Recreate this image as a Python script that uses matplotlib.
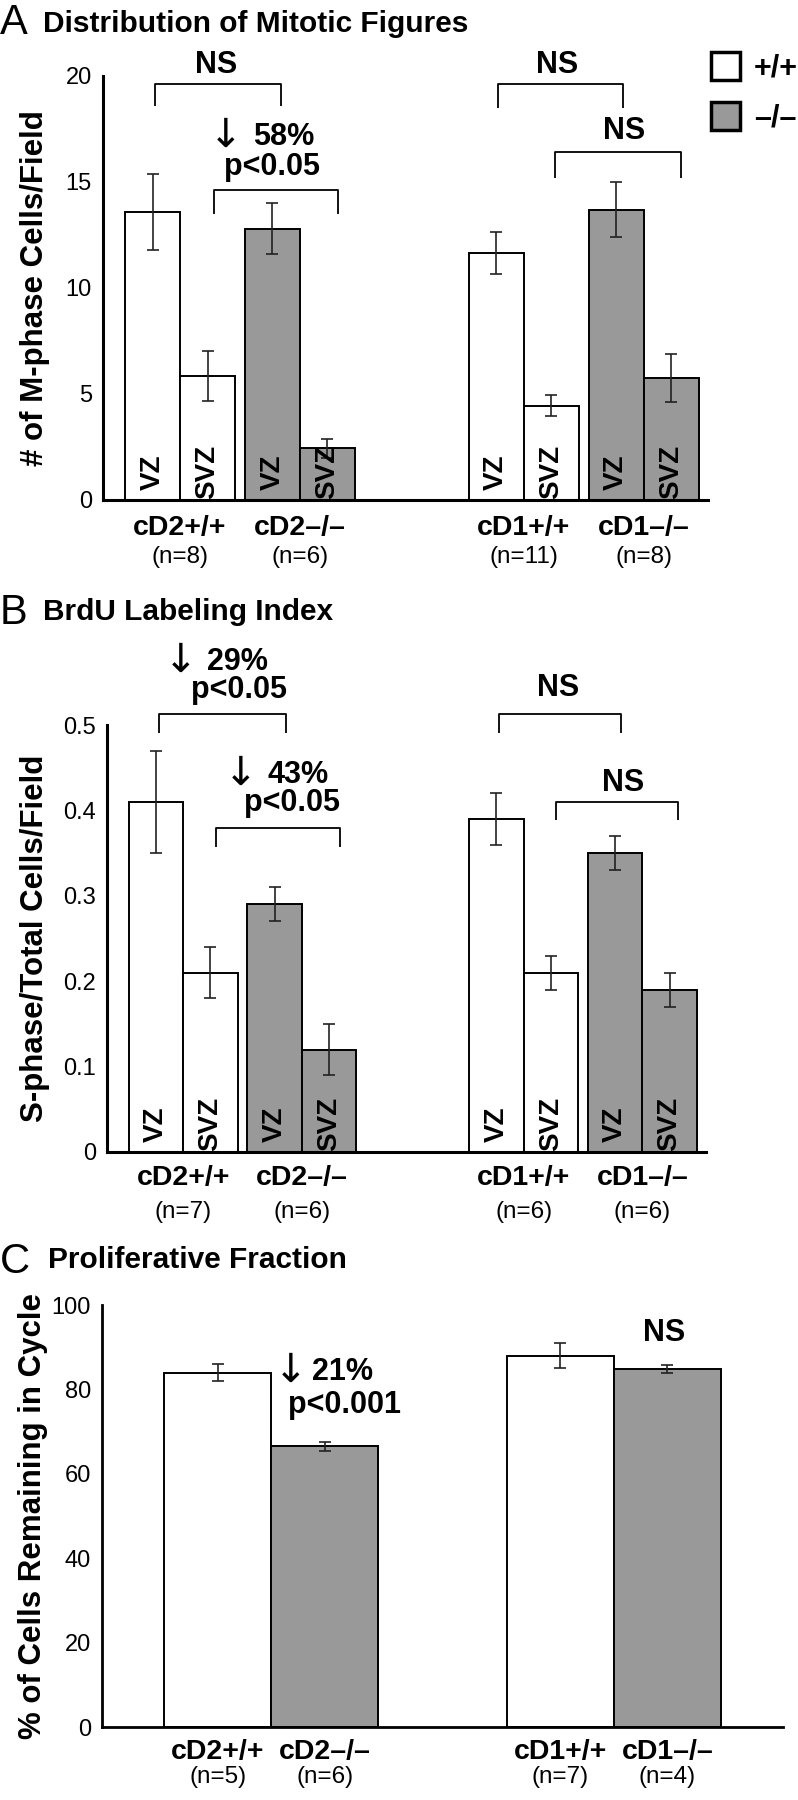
import matplotlib
matplotlib.use('Agg')
import matplotlib.pyplot as plt
from matplotlib.patches import Patch

plt.rcParams['font.family'] = ['Liberation Sans', 'DejaVu Sans']

# ---------------- data ----------------
zones = ['VZ', 'SVZ']
genotypes = ['cD2+/+', 'cD2–/–', 'cD1+/+', 'cD1–/–']
genotype_kind = ['+/+', '–/–', '+/+', '–/–']

# Panel A: mitotic figures (# of M-phase cells / field), order: VZ, SVZ per genotype
mitotic_mean = [13.6, 5.85, 12.8, 2.45, 11.65, 4.45, 13.7, 5.75]
mitotic_err = [1.8, 1.2, 1.2, 0.45, 1.0, 0.5, 1.3, 1.15]
n_A = ['(n=8)', '(n=6)', '(n=11)', '(n=8)']

# Panel B: BrdU labeling index
brdu_mean = [0.41, 0.21, 0.29, 0.12, 0.39, 0.21, 0.35, 0.19]
brdu_err = [0.06, 0.03, 0.02, 0.03, 0.03, 0.02, 0.02, 0.02]
n_B = ['(n=7)', '(n=6)', '(n=6)', '(n=6)']

# Panel C: proliferative fraction (%)
prolif_mean = [84.0, 66.5, 88.0, 84.8]
prolif_err = [2.0, 1.0, 3.0, 1.0]
n_C = ['(n=5)', '(n=6)', '(n=7)', '(n=4)']

legend_labels = ['+/+', '–/–']

# ---------------- style ----------------
GRAY = '#999999'
fill = {'+/+': 'white', '–/–': GRAY}
W, H = 798, 1800
fig = plt.figure(figsize=(W / 100, H / 100), dpi=100)

FS_ANN = 22
FS_XL = 20.5
FS_N = 17.5
FS_TICK = 17
FS_YL = 22.5
FS_TITLE = 21.5
FS_LET = 30
FS_ZONE = 20


def fx(px):
    return px / W


def fy(py):
    return 1 - py / H


def make_ax(left, right, top, bottom):
    return fig.add_axes([fx(left), fy(bottom), fx(right - left), (bottom - top) / H])


def style_ax(ax, lw):
    for s in ['top', 'right']:
        ax.spines[s].set_visible(False)
    for s in ['left', 'bottom']:
        ax.spines[s].set_linewidth(lw)
    ax.tick_params(axis='y', length=0, pad=8, labelsize=FS_TICK)
    ax.set_xticks([])


def bracket(ax, x1, x2, ytop, ybot):
    ax.plot([x1, x1, x2, x2], [ybot, ytop, ytop, ybot], color='black', lw=1.3,
            clip_on=False, solid_capstyle='butt')


def btext(ax, x, y, s, ha='center'):
    ax.text(x, y, s, ha=ha, va='center', fontsize=FS_ANN, fontweight='bold', clip_on=False)


def drop_text(ax, x, y, s, gap=7):
    """Percentage text starting at x with a tall down arrow to its left."""
    ax.text(x, y, s, ha='left', va='center', fontsize=FS_ANN, fontweight='bold',
            clip_on=False)
    ax.annotate('↓', xy=(x, y), xytext=(-gap, 1), textcoords='offset points',
                ha='right', va='center', fontsize=29, family='DejaVu Sans',
                annotation_clip=False)


ekw = dict(ecolor='#222222', elinewidth=1.2, capsize=4, capthick=1.2)


def zone_panel(ax, means, errs, ns, lab_off, n_off):
    # bar layout: pairs of (VZ, SVZ) for each genotype
    pair_starts = [0.4, 2.58, 6.65, 8.83]
    lefts, colors, zlab = [], [], []
    for g, ps in enumerate(pair_starts):
        for z in range(2):
            lefts.append(ps + z)
            colors.append(fill[genotype_kind[g]])
            zlab.append(zones[z])
    centers = [l + 0.5 for l in lefts]
    ax.bar(centers, means, width=1.0, color=colors, edgecolor='black',
           linewidth=1.4, yerr=errs, error_kw=ekw, zorder=2)
    for c, z in zip(centers, zlab):
        ax.annotate(z, xy=(c, 0), xytext=(0, 20), textcoords='offset points',
                    rotation=90, ha='center', va='center', fontsize=FS_ZONE,
                    fontweight='bold', zorder=3)
    for g, ps in enumerate(pair_starts):
        pc = ps + 1.0
        ax.annotate(genotypes[g], xy=(pc, 0), xytext=(0, -lab_off),
                    textcoords='offset points', ha='center', va='center',
                    fontsize=FS_XL, fontweight='bold', annotation_clip=False)
        ax.annotate(ns[g], xy=(pc, 0), xytext=(0, -n_off),
                    textcoords='offset points', ha='center', va='center',
                    fontsize=FS_N, annotation_clip=False)
    ax.set_xlim(0, 11.0)
    return centers


# ---------------- Panel A ----------------
axA = make_ax(103, 708, 76, 500)
style_ax(axA, 2.2)
cA = zone_panel(axA, mitotic_mean, mitotic_err, n_A, 20, 41)
axA.set_ylim(0, 20)
axA.set_yticks([0, 5, 10, 15, 20])
axA.set_ylabel('# of M-phase Cells/Field', fontsize=FS_YL, fontweight='bold')
axA.yaxis.set_label_coords(-0.088, 0.5)

bracket(axA, cA[0] + 0.05, cA[2] + 0.16, 19.6, 18.6)
btext(axA, 2.05, 20.5, 'NS')
bracket(axA, cA[1] + 0.12, cA[3] + 0.2, 14.6, 13.5)
drop_text(axA, 2.72, 17.1, '58%')
btext(axA, 3.07, 15.7, 'p<0.05')
bracket(axA, cA[4] + 0.03, cA[6] + 0.12, 19.6, 18.5)
btext(axA, 8.25, 20.5, 'NS')
bracket(axA, cA[5] + 0.07, cA[7] + 0.17, 16.4, 15.2)
btext(axA, 9.47, 17.4, 'NS')

handles = [Patch(facecolor=fill[k], edgecolor='black', linewidth=2.5) for k in legend_labels]
axA.legend(handles, legend_labels, loc='upper left',
           bbox_to_anchor=(fx(711), fy(52)), bbox_transform=fig.transFigure,
           frameon=False, prop={'size': 22, 'weight': 'bold'},
           handlelength=0.95, handleheight=1.05, handletextpad=0.45,
           labelspacing=0.6, borderpad=0, borderaxespad=0)

fig.text(fx(0), fy(34), 'A', fontsize=FS_LET, va='baseline', ha='left')
fig.text(fx(43), fy(32), 'Distribution of Mitotic Figures', fontsize=FS_TITLE,
         fontweight='bold', va='baseline', ha='left')

# ---------------- Panel B ----------------
axB = make_ax(107, 706, 725, 1152)
style_ax(axB, 2.2)
cB = zone_panel(axB, brdu_mean, brdu_err, n_B, 19, 43)
axB.set_ylim(0, 0.5)
axB.set_yticks([0, 0.1, 0.2, 0.3, 0.4, 0.5])
axB.set_yticklabels(['0', '0.1', '0.2', '0.3', '0.4', '0.5'])
axB.set_ylabel('S-phase/Total Cells/Field', fontsize=FS_YL, fontweight='bold')
axB.yaxis.set_label_coords(-0.095, 0.5)

bracket(axB, cB[0] + 0.05, cB[2] + 0.2, 0.513, 0.491)
drop_text(axB, 1.84, 0.574, '29%')
btext(axB, 2.42, 0.541, 'p<0.05')
bracket(axB, cB[1] + 0.1, cB[3] + 0.2, 0.379, 0.357)
drop_text(axB, 2.94, 0.441, '43%')
btext(axB, 3.40, 0.409, 'p<0.05')
bracket(axB, cB[4] + 0.05, cB[6] + 0.1, 0.513, 0.491)
btext(axB, 8.29, 0.543, 'NS')
bracket(axB, cB[5] + 0.1, cB[7] + 0.15, 0.41, 0.389)
btext(axB, 9.47, 0.432, 'NS')

fig.text(fx(0), fy(624), 'B', fontsize=FS_LET, va='baseline', ha='left')
fig.text(fx(43), fy(620), 'BrdU Labeling Index', fontsize=FS_TITLE,
         fontweight='bold', va='baseline', ha='left')

# ---------------- Panel C ----------------
axC = make_ax(102, 783, 1305, 1727)
style_ax(axC, 2.0)
c_lefts = [0.58, 1.58, 3.78, 4.78]
cC = [l + 0.5 for l in c_lefts]
axC.bar(cC, prolif_mean, width=1.0, color=[fill[k] for k in genotype_kind],
        edgecolor='black', linewidth=1.4, yerr=prolif_err, error_kw=ekw, zorder=2)
for c, g, n in zip(cC, genotypes, n_C):
    axC.annotate(g, xy=(c, 0), xytext=(0, -18), textcoords='offset points',
                 ha='center', va='center', fontsize=FS_XL, fontweight='bold',
                 annotation_clip=False)
    axC.annotate(n, xy=(c, 0), xytext=(0, -36), textcoords='offset points',
                 ha='center', va='center', fontsize=FS_N, annotation_clip=False)
axC.set_xlim(0, 6.36)
axC.set_ylim(0, 100)
axC.set_yticks([0, 20, 40, 60, 80, 100])
axC.set_ylabel('% of Cells Remaining in Cycle', fontsize=FS_YL, fontweight='bold')
axC.yaxis.set_label_coords(-0.079, 0.5)

drop_text(axC, 1.96, 84.1, '21%', gap=3)
btext(axC, 1.74, 76.3, 'p<0.001', ha='left')
btext(axC, 5.25, 93.4, 'NS')

fig.text(fx(0), fy(1273), 'C', fontsize=FS_LET, va='baseline', ha='left')
fig.text(fx(48), fy(1268), 'Proliferative Fraction', fontsize=FS_TITLE,
         fontweight='bold', va='baseline', ha='left')

fig.savefig('out.png', dpi=100)
